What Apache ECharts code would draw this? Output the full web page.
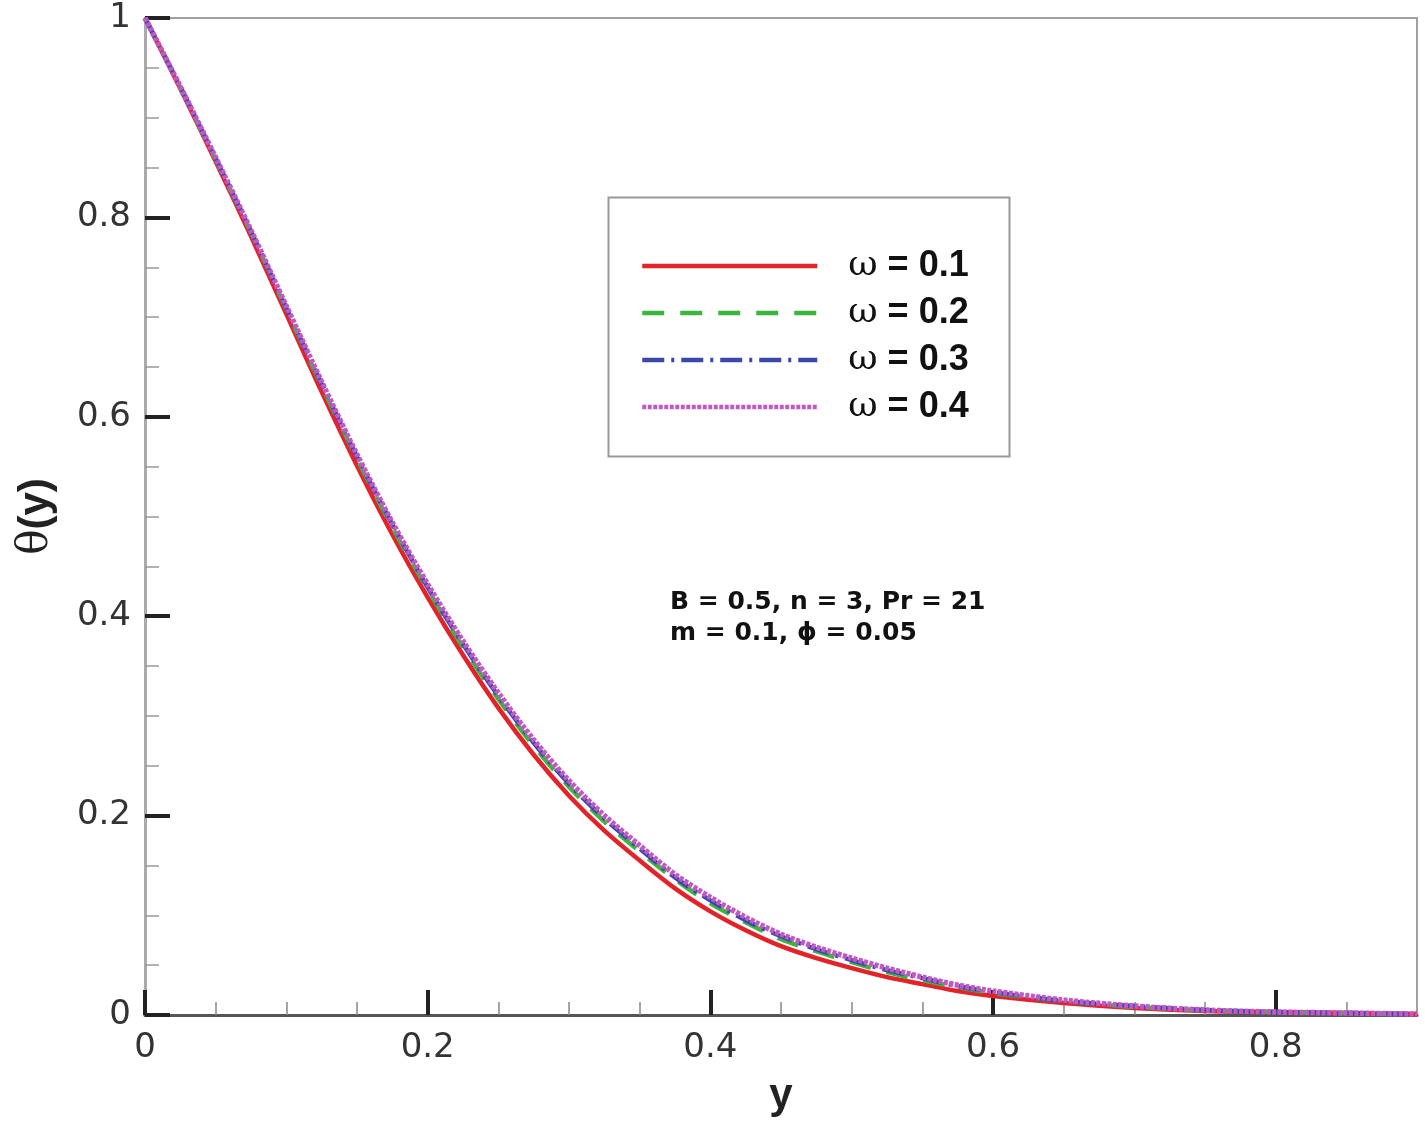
<!DOCTYPE html>
<html>
<head>
<meta charset="utf-8">
<script src="https://cdn.jsdelivr.net/npm/echarts@6/dist/echarts.min.js"></script>
<style>html,body{margin:0;padding:0;background:#fff}#c{width:1425px;height:1128px}</style>
</head>
<body>
<div id="c"></div>
<script>
var xVals = [0,0.025,0.05,0.075,0.1,0.125,0.15,0.175,0.2,0.225,0.25,0.275,0.3,0.325,0.35,0.375,0.4,0.425,0.45,0.475,0.5,0.525,0.55,0.575,0.6,0.65,0.7,0.75,0.8,0.85,0.9];
var omega01 = [1.000,0.929,0.856,0.781,0.703,0.625,0.551,0.482,0.419,0.361,0.308,0.261,0.220,0.185,0.155,0.127,0.104,0.085,0.069,0.057,0.047,0.038,0.031,0.024,0.019,0.012,0.007,0.004,0.003,0.002,0.001];
var omega02 = [1.000,0.930,0.858,0.785,0.708,0.631,0.558,0.489,0.427,0.369,0.317,0.270,0.229,0.194,0.164,0.136,0.112,0.093,0.076,0.064,0.053,0.043,0.035,0.028,0.022,0.014,0.008,0.005,0.003,0.002,0.001];
var omega03 = [1.000,0.931,0.859,0.786,0.709,0.633,0.560,0.492,0.429,0.372,0.320,0.273,0.232,0.197,0.167,0.138,0.115,0.095,0.079,0.066,0.055,0.045,0.037,0.029,0.023,0.014,0.009,0.005,0.003,0.002,0.001];
var omega04 = [1.000,0.931,0.860,0.787,0.711,0.635,0.562,0.494,0.432,0.375,0.323,0.276,0.235,0.200,0.170,0.141,0.118,0.098,0.081,0.068,0.057,0.047,0.038,0.030,0.024,0.015,0.009,0.005,0.003,0.002,0.001];
var seriesNames = ['ω = 0.1','ω = 0.2','ω = 0.3','ω = 0.4'];
var xTicks = [0,0.2,0.4,0.6,0.8];
var yTicks = [0,0.2,0.4,0.6,0.8,1];
var noteLines = ['B = 0.5, n = 3, Pr = 21','m = 0.1, ϕ = 0.05'];

function pairs(ys){ return xVals.map(function(x,i){ return [x, ys[i]]; }); }

var colors = ['#e3232a','#3db43d','#3b47ad','#c158c4'];
var dashes = ['solid',[22,16],[22,7,3,7],[4,1.5]];
var widths = [4.5,4.5,4.5,5.5];
var datas = [omega01, omega02, omega03, omega04];

var chart = echarts.init(document.getElementById('c'));
var font = 'Liberation Sans, Arial, sans-serif';
var dfont = 'DejaVu Sans, sans-serif';
chart.setOption({
  animation:false,
  backgroundColor:'#fff',
  grid:{left:145,right:8,top:18,bottom:113,show:true,borderColor:'#a0a0a0',borderWidth:2},
  xAxis:{
    type:'value',min:0,max:0.9,interval:0.2,
    name:'y',nameLocation:'middle',nameGap:60,
    nameTextStyle:{fontSize:42,fontWeight:'bold',color:'#222',fontFamily:font},
    axisLine:{show:true,lineStyle:{color:'#555',width:3}},
    axisTick:{show:true,inside:true,length:25,lineStyle:{color:'#222',width:4},customValues:xTicks},
    minorTick:{show:true,splitNumber:4,length:13,lineStyle:{color:'#888',width:1.5}},
    axisLabel:{fontSize:34,color:'#333',margin:16,fontFamily:dfont,customValues:xTicks,showMaxLabel:true},
    splitLine:{show:false}
  },
  yAxis:{
    type:'value',min:0,max:1,interval:0.2,
    name:'{t|θ}{p|(y)}',nameLocation:'middle',nameGap:88,nameRotate:90,
    nameTextStyle:{rich:{
      t:{fontSize:42,fontFamily:'DejaVu Serif, Liberation Serif, serif',color:'#222'},
      p:{fontSize:42,fontWeight:'bold',fontFamily:font,color:'#222'}
    }},
    axisLine:{show:true,lineStyle:{color:'#aaa',width:3}},
    axisTick:{show:true,inside:true,length:25,lineStyle:{color:'#222',width:4},customValues:yTicks},
    minorTick:{show:true,splitNumber:4,length:14,lineStyle:{color:'#999',width:1.5}},
    axisLabel:{fontSize:34,color:'#333',margin:14,fontFamily:dfont,customValues:yTicks},
    splitLine:{show:false}
  },
  legend:{
    left:640,top:248,orient:'vertical',padding:0,
    itemWidth:175,itemHeight:20,itemGap:11,
    data:seriesNames,
    itemStyle:{opacity:0},
    lineStyle:{width:4.5},
    formatter:function(n){ var p=n.split(' = '); return '{w|ω}{b| = '+p[1]+'}'; },
    textStyle:{rich:{
      w:{fontSize:36,lineHeight:34,fontFamily:'DejaVu Serif, Liberation Serif, serif',color:'#111',padding:[0,0,0,26]},
      b:{fontSize:36,lineHeight:34,fontWeight:'bold',fontFamily:font,color:'#111'}
    }}
  },
  graphic:[
    {type:'rect',left:606,top:195,shape:{width:401,height:259},style:{fill:'none',stroke:'#999',lineWidth:2},z:5},
    {type:'text',left:670,top:590,style:{text:noteLines[0],font:'bold 25px '+dfont,fill:'#111'},z:5},
    {type:'text',left:670,top:621,style:{text:noteLines[1],font:'bold 25px '+dfont,fill:'#111'},z:5}
  ],
  series:datas.map(function(d,i){
    return {
      name:seriesNames[i],type:'line',data:pairs(d),smooth:0.3,symbol:'none',
      lineStyle:{color:colors[i],width:widths[i],type:dashes[i]},
      itemStyle:{color:colors[i]},
      z:2+i
    };
  })
});
</script>
</body>
</html>
